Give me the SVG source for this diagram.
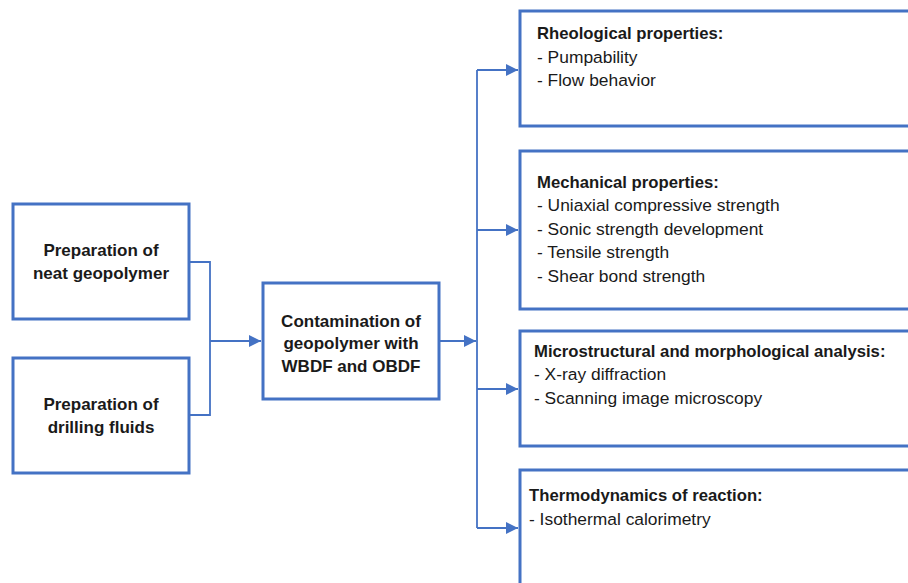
<svg xmlns="http://www.w3.org/2000/svg" width="908" height="583" viewBox="0 0 908 583">
<defs>
<style>
.box{fill:#fff;stroke:#4472C4;stroke-width:3}
.con{fill:none;stroke:#4472C4;stroke-width:1.8}
.ct{font-family:"Liberation Sans",Arial,sans-serif;font-weight:bold;font-size:17px;fill:#1a1a1a;text-anchor:middle}
.hd{font-family:"Liberation Sans",Arial,sans-serif;font-weight:bold;font-size:16.7px;fill:#1a1a1a}
.it{font-family:"Liberation Sans",Arial,sans-serif;font-size:17.4px;fill:#1a1a1a}
</style>
<marker id="arr" markerUnits="userSpaceOnUse" markerWidth="12" markerHeight="12" viewBox="0 0 10 10" refX="10" refY="5" orient="auto">
<path d="M0,0 L10,5 L0,10 Z" fill="#4472C4"/>
</marker>
</defs>
<rect width="908" height="583" fill="#fff"/>
<g id="connectors">
<path class="con" d="M189,262 H210 V415 H189"/>
<path class="con" d="M210,341 H261" marker-end="url(#arr)"/>
<path class="con" d="M440,341 H476" marker-end="url(#arr)"/>
<path class="con" d="M477,70 V528"/>
<path class="con" d="M477,70 H518" marker-end="url(#arr)"/>
<path class="con" d="M477,230 H518" marker-end="url(#arr)"/>
<path class="con" d="M477,389 H518" marker-end="url(#arr)"/>
<path class="con" d="M477,528 H518" marker-end="url(#arr)"/>
</g>
<g id="neat">
<rect class="box" x="13" y="204" width="176" height="115"/>
<text class="ct" x="101" y="256">Preparation of</text>
<text class="ct" x="101" y="279">neat geopolymer</text>
</g>
<g id="fluids">
<rect class="box" x="13" y="358" width="176" height="115"/>
<text class="ct" x="101" y="410">Preparation of</text>
<text class="ct" x="101" y="433">drilling fluids</text>
</g>
<g id="contamination">
<rect class="box" x="263" y="283" width="176" height="116"/>
<text class="ct" x="351" y="327">Contamination of</text>
<text class="ct" x="351" y="349">geopolymer with</text>
<text class="ct" x="351" y="372">WBDF and OBDF</text>
</g>
<g id="rheological">
<rect class="box" x="520" y="11" width="420" height="115"/>
<text class="hd" x="537" y="39">Rheological properties:</text>
<text class="it" x="537" y="63">- Pumpability</text>
<text class="it" x="537" y="86">- Flow behavior</text>
</g>
<g id="mechanical">
<rect class="box" x="520" y="151" width="420" height="158"/>
<text class="hd" x="537" y="188">Mechanical properties:</text>
<text class="it" x="537" y="211">- Uniaxial compressive strength</text>
<text class="it" x="537" y="235">- Sonic strength development</text>
<text class="it" x="537" y="258">- Tensile strength</text>
<text class="it" x="537" y="282">- Shear bond strength</text>
</g>
<g id="microstructural">
<rect class="box" x="520" y="331" width="420" height="115"/>
<text class="hd" x="534" y="357">Microstructural and morphological analysis:</text>
<text class="it" x="534" y="380">- X-ray diffraction</text>
<text class="it" x="534" y="404">- Scanning image microscopy</text>
</g>
<g id="thermodynamics">
<rect class="box" x="520" y="470" width="420" height="150"/>
<text class="hd" x="529" y="501">Thermodynamics of reaction:</text>
<text class="it" x="529" y="525">- Isothermal calorimetry</text>
</g>
</svg>
